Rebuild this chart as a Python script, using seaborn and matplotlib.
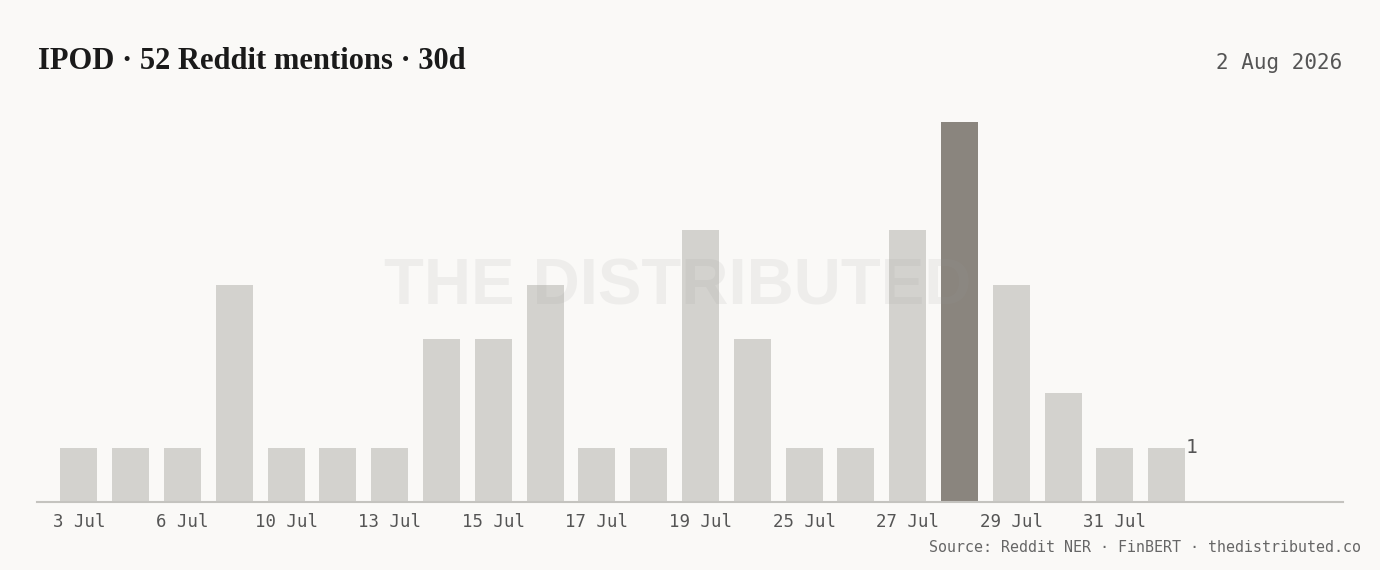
import matplotlib
matplotlib.use('Agg')
import matplotlib.pyplot as plt
import pandas as pd
import seaborn as sns

# data
days = ['3 Jul', '5 Jul', '6 Jul', '8 Jul', '10 Jul', '12 Jul', '13 Jul', '14 Jul',
        '15 Jul', '16 Jul', '17 Jul', '18 Jul', '19 Jul', '20 Jul', '25 Jul', '26 Jul',
        '27 Jul', '28 Jul', '29 Jul', '30 Jul', '31 Jul', '1 Aug']
mentions = [1, 1, 1, 4, 1, 1, 1, 3, 3, 4, 1, 1, 5, 3, 1, 1, 5, 7, 4, 2, 1, 1]
peak_day = '28 Jul'

title_text = 'IPOD · 52 Reddit mentions · 30d'
date_text = '2 Aug 2026'
source_text = 'Source: Reddit NER · FinBERT · thedistributed.co'
watermark = 'THE DISTRIBUTED'

bg = '#faf9f7'
bar_color = '#d3d2ce'
peak_color = '#8a857e'
mono = 'DejaVu Sans Mono'

df = pd.DataFrame({'day': days, 'mentions': mentions})
df['peak'] = df['day'].eq(peak_day).map({True: 'peak', False: 'normal'})

sns.set_style('white')
plt.rcParams['font.family'] = ['DejaVu Sans']

fig = plt.figure(figsize=(13.8, 5.7), dpi=100, facecolor=bg)
ax = fig.add_axes([0.0268, 0.1193, 0.9462, 0.7053])
ax.set_facecolor(bg)

sns.barplot(data=df, x='day', y='mentions', hue='peak', dodge=False, legend=False,
            palette={'normal': bar_color, 'peak': peak_color}, width=0.714,
            saturation=1, linewidth=0, ax=ax)

ax.set_xlim(-0.81, 24.4)
ax.set_ylim(0, 7.4)
for s in ['top', 'right', 'left']:
    ax.spines[s].set_visible(False)
ax.spines['bottom'].set_color('#c4c3bf')
ax.spines['bottom'].set_linewidth(1.5)
ax.set_yticks([])
ax.set_xlabel('')
ax.set_ylabel('')

ticks = list(range(0, len(days), 2))
ax.set_xticks(ticks)
ax.set_xticklabels([days[i] for i in ticks], fontfamily=mono, fontsize=12.5, color='#555555')
ax.tick_params(axis='x', length=0, pad=8)

# label on the last bar
ax.text(len(days) - 1 + 0.36, mentions[-1], str(mentions[-1]), fontfamily=mono,
        fontsize=14, color='#555555', ha='left', va='center')

# watermark
fig.text(0.491, 0.495, watermark, fontfamily='Liberation Sans', fontweight='bold',
         fontsize=47, color='#9a9a9a', alpha=0.12, ha='center', va='center', zorder=10)

fig.text(0.0275, 0.892, title_text, fontfamily='Liberation Serif', fontweight='bold',
         fontsize=22, color='#1a1a1a', ha='left', va='center')
fig.text(0.9725, 0.89, date_text, fontfamily=mono, fontsize=15, color='#555555',
         ha='right', va='center')
fig.text(0.986, 0.04, source_text, fontfamily=mono, fontsize=10.8, color='#666666',
         ha='right', va='center')

fig.savefig('out.png', dpi=100, facecolor=bg)
